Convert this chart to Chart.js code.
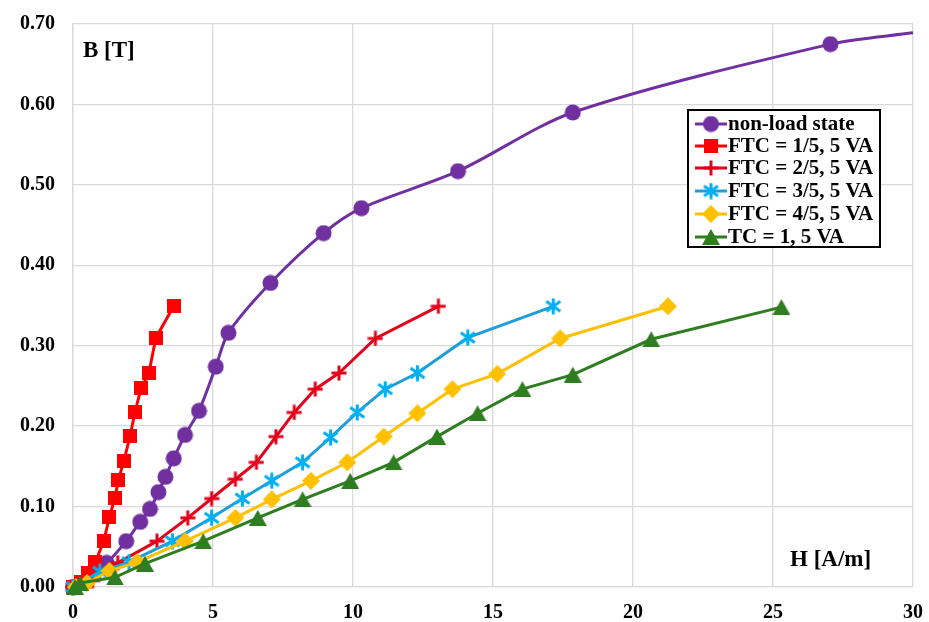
<!DOCTYPE html>
<html>
<head>
<meta charset="utf-8">
<script src="https://cdn.jsdelivr.net/npm/chart.js@4/dist/chart.umd.min.js"></script>
<style>
html,body{margin:0;padding:0;background:#fff;}
#wrap{width:929px;height:622px;position:relative;}
</style>
</head>
<body>
<div id="wrap"><canvas id="c" width="929" height="622"></canvas></div>
<script>
// ---- Data ----
const seriesNames = ["non-load state","FTC = 1/5, 5 VA","FTC = 2/5, 5 VA","FTC = 3/5, 5 VA","FTC = 4/5, 5 VA","TC = 1, 5 VA"];

const hNoLoad = [0, 1.2, 1.9, 2.4, 2.75, 3.05, 3.3, 3.6, 4.0, 4.5, 5.1, 5.55, 7.05, 8.95, 10.3, 13.75, 17.85, 27.05, 30];
const bNoLoad = [0, 0.030, 0.057, 0.081, 0.097, 0.118, 0.137, 0.160, 0.189, 0.219, 0.274, 0.316, 0.378, 0.440, 0.471, 0.517, 0.590, 0.675, 0.689];

const hFtc15 = [0, 0.3, 0.55, 0.8, 1.1, 1.3, 1.5, 1.62, 1.82, 2.04, 2.21, 2.43, 2.71, 2.96, 3.61];
const bFtc15 = [0, 0.006, 0.018, 0.031, 0.057, 0.087, 0.111, 0.133, 0.157, 0.188, 0.217, 0.247, 0.266, 0.310, 0.350];

const hFtc25 = [0, 0.7, 1.6, 3.0, 4.1, 4.95, 5.8, 6.55, 7.25, 7.9, 8.65, 9.5, 10.8, 13.05];
const bFtc25 = [0, 0.008, 0.030, 0.057, 0.086, 0.110, 0.134, 0.155, 0.187, 0.217, 0.246, 0.266, 0.309, 0.349];

const hFtc35 = [0, 0.96, 2.0, 3.55, 4.95, 6.05, 7.1, 8.2, 9.2, 10.15, 11.15, 12.3, 14.1, 17.15];
const bFtc35 = [0, 0.019, 0.031, 0.057, 0.086, 0.110, 0.132, 0.155, 0.186, 0.217, 0.246, 0.266, 0.310, 0.349];

const hFtc45 = [0.1, 0.5, 1.3, 2.3, 4.0, 5.8, 7.1, 8.5, 9.8, 11.1, 12.3, 13.55, 15.15, 17.4, 21.25];
const bFtc45 = [0, 0.005, 0.020, 0.031, 0.057, 0.086, 0.109, 0.132, 0.155, 0.187, 0.216, 0.246, 0.265, 0.309, 0.349];

const hTc1 = [0.07, 0.25, 1.5, 2.57, 4.65, 6.6, 8.2, 9.9, 11.45, 13.0, 14.45, 16.05, 17.85, 20.65, 25.3];
const bTc1 = [0, 0.005, 0.012, 0.029, 0.057, 0.086, 0.109, 0.132, 0.155, 0.187, 0.216, 0.246, 0.264, 0.308, 0.348];

const xTicks = [0, 5, 10, 15, 20, 25, 30];
const yTicks = [0, 0.1, 0.2, 0.3, 0.4, 0.5, 0.6, 0.7];

// ---- Styles ----
const FONT = "'Liberation Serif', 'Times New Roman', serif";
const C_PURPLE = '#7030A0';
const C_RED = '#FF0000';
const C_RED2 = '#E3001B';
const C_CYANL = '#1F9ED9';
const C_CYANM = '#00B0F0';
const C_YELLOW = '#FFC000';
const C_GREEN = '#2E7D20';

function mk(w, h, draw) {
  const c = document.createElement('canvas');
  c.width = w; c.height = h;
  const g = c.getContext('2d');
  draw(g, w, h);
  return c;
}
const mCircle = mk(17, 17, g => { g.fillStyle = C_PURPLE; g.beginPath(); g.arc(8.5, 8.5, 8, 0, Math.PI * 2); g.fill(); });
const mSquare = mk(14, 14, g => { g.fillStyle = C_RED; g.fillRect(0, 0, 14, 14); });
const mPlus = mk(16, 16, g => { g.strokeStyle = C_RED2; g.lineWidth = 3; g.beginPath(); g.moveTo(8, 0.5); g.lineTo(8, 15.5); g.moveTo(0.5, 8); g.lineTo(15.5, 8); g.stroke(); });
const mStar = mk(17, 17, g => { g.strokeStyle = C_CYANM; g.lineWidth = 3; g.beginPath(); g.moveTo(8.5, 0.5); g.lineTo(8.5, 16.5); g.moveTo(1.5, 3.5); g.lineTo(15.5, 13.5); g.moveTo(1.5, 13.5); g.lineTo(15.5, 3.5); g.stroke(); });
const mDiamond = mk(18, 18, g => { g.fillStyle = C_YELLOW; g.beginPath(); g.moveTo(9, 0); g.lineTo(18, 9); g.lineTo(9, 18); g.lineTo(0, 9); g.closePath(); g.fill(); });
const mTri = mk(18, 16, g => { g.fillStyle = C_GREEN; g.beginPath(); g.moveTo(9, 0); g.lineTo(18, 16); g.lineTo(0, 16); g.closePath(); g.fill(); });

function pts(hs, bs) { return hs.map((h, i) => ({ x: h, y: bs[i] })); }

const seriesDefs = [
  { h: hNoLoad, b: bNoLoad, line: C_PURPLE, marker: mCircle, smooth: true },
  { h: hFtc15, b: bFtc15, line: C_RED, marker: mSquare },
  { h: hFtc25, b: bFtc25, line: C_RED2, marker: mPlus },
  { h: hFtc35, b: bFtc35, line: C_CYANL, marker: mStar },
  { h: hFtc45, b: bFtc45, line: C_YELLOW, marker: mDiamond },
  { h: hTc1, b: bTc1, line: C_GREEN, marker: mTri },
];

const datasets = seriesDefs.map((s, i) => {
  const data = pts(s.h, s.b);
  const radius = data.map((p, j) => (s.smooth && j === data.length - 1) ? 0 : 8);
  const styles = data.map((p, j) => (s.smooth && j === data.length - 1) ? false : s.marker);
  return {
    label: seriesNames[i],
    data: data,
    borderColor: s.line,
    backgroundColor: s.line,
    borderWidth: 3,
    pointStyle: styles,
    pointRadius: radius,
    showLine: true,
    tension: s.smooth ? 0.3 : 0,
    clip: false,
    order: 6 - i,
  };
});

const overlay = {
  id: 'overlay',
  afterDraw(chart) {
    const ctx = chart.ctx;
    ctx.save();
    // axis labels
    ctx.fillStyle = '#000';
    ctx.font = 'bold 23px ' + FONT;
    ctx.textBaseline = 'alphabetic';
    ctx.textAlign = 'left';
    ctx.fillText('B [T]', 83, 57);
    ctx.fillText('H [A/m]', 790, 566);
    // legend
    const bx = 688, by = 110, bw = 192, bh = 137;
    ctx.fillStyle = '#fff';
    ctx.fillRect(bx, by, bw, bh);
    ctx.strokeStyle = '#000';
    ctx.lineWidth = 2;
    ctx.strokeRect(bx, by, bw, bh);
    const rows = [124, 146, 168, 191, 214, 237];
    ctx.font = 'bold 21px ' + FONT;
    ctx.textBaseline = 'middle';
    seriesDefs.forEach((s, i) => {
      const y = rows[i];
      ctx.strokeStyle = s.line;
      ctx.lineWidth = 3;
      ctx.beginPath();
      ctx.moveTo(695, y);
      ctx.lineTo(727, y);
      ctx.stroke();
      const m = s.marker;
      ctx.drawImage(m, 711 - m.width / 2, y - m.height / 2);
      ctx.fillStyle = '#000';
      ctx.fillText(seriesNames[i], 728, y + 1);
    });
    ctx.restore();
  }
};

function zeroPad(s) { s.paddingTop = 0; s.paddingBottom = 0; s.paddingLeft = 0; s.paddingRight = 0; }

new Chart(document.getElementById('c'), {
  type: 'scatter',
  data: { datasets },
  options: {
    responsive: false,
    animation: false,
    devicePixelRatio: 1,
    layout: { padding: { top: 24, right: 16, left: 0, bottom: 0 } },
    plugins: { legend: { display: false }, tooltip: { enabled: false } },
    scales: {
      x: {
        type: 'linear',
        min: 0, max: 30,
        afterBuildTicks: (s) => { s.ticks = xTicks.map(v => ({ value: v })); },
        afterFit: (s) => { s.height = 35; zeroPad(s); },
        grid: { color: '#D9D9D9', lineWidth: 1.3, drawTicks: false },
        border: { color: '#D9D9D9', width: 1.3 },
        ticks: { color: '#000', font: { family: FONT, size: 20, weight: 'bold' }, padding: 14, maxRotation: 0 }
      },
      y: {
        type: 'linear',
        min: 0, max: 0.7,
        afterBuildTicks: (s) => { s.ticks = yTicks.map(v => ({ value: v })); },
        afterFit: (s) => { s.width = 73; zeroPad(s); },
        grid: { color: '#D9D9D9', lineWidth: 1.3, drawTicks: false },
        border: { color: '#D9D9D9', width: 1.3 },
        ticks: { color: '#000', font: { family: FONT, size: 20, weight: 'bold' }, padding: 18, callback: v => Number(v).toFixed(2) }
      }
    }
  },
  plugins: [overlay]
});
</script>
</body>
</html>
